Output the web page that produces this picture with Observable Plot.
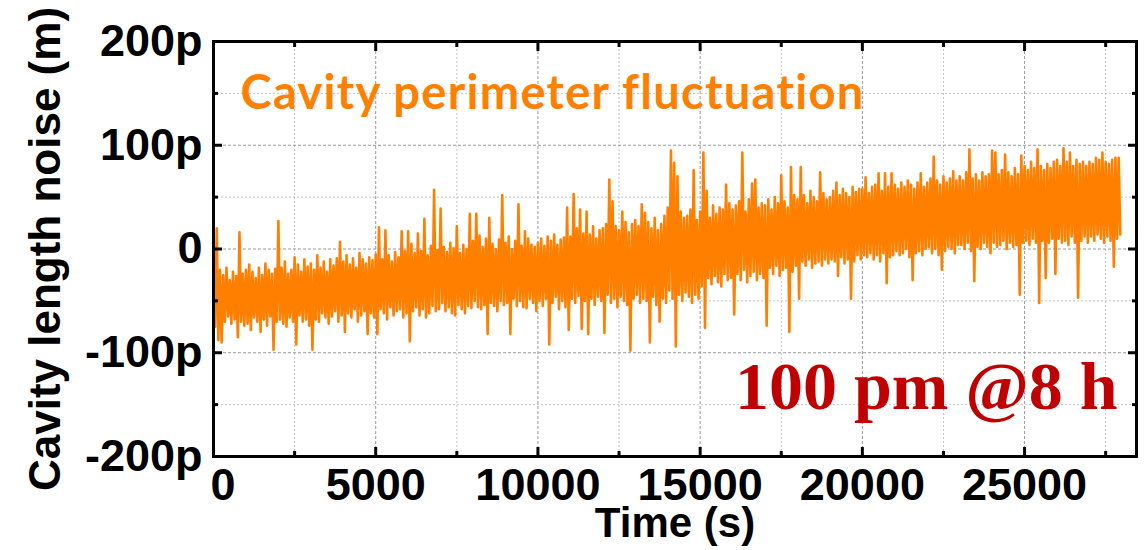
<!DOCTYPE html>
<html><head><meta charset="utf-8">
<script src="https://cdn.jsdelivr.net/npm/d3@7"></script>
<script src="https://cdn.jsdelivr.net/npm/@observablehq/plot@0.6"></script>
<style>body{margin:0;background:#fff;} svg{display:block}</style>
</head><body><div id="chart"></div>
<script>
// Upper and lower excursion of the trace in each 100 s window (pm)
const hiValues = [
  15, 20, -20, -25, -18, -30, -22, -26, 16, -24,
  -20, -15, -22, -28, -18, -25, -14, -20, -24, -19,
  27, -18, -12, -24, -20, -8, -15, -22, -10, -17,
  -14, -20, -6, -18, -12, -22, -10, -16, -9, 7,
  -12, -6, -15, -9, -18, -4, -10, -14, -8, -11,
  -5, 21, -10, 18, -6, -12, -3, -8, 17, -2,
  17, 5, -4, 15, -2, 29, -6, 3, 57, -1,
  39, 2, -3, 6, 1, 22, -4, 4, 0, 34,
  8, 34, 13, 2, 10, 30, 5, 0, 9, 52,
  6, 12, 0, 8, 43, 3, 17, 10, 4, 2,
  6, 10, 3, 12, 8, 14, 4, 9, 11, 40,
  12, 53, 20, 38, 15, 36, 14, 22, 10, 18,
  20, 24, 67, 46, 22, 18, 36, 26, 16, 24,
  28, 22, 43, 35, 26, 20, 30, 18, 24, 32,
  40, 95, 83, 70, 36, 30, 32, 38, 76, 28,
  36, 93, 56, 30, 42, 34, 40, 38, 62, 44,
  38, 42, 46, 93, 36, 48, 63, 67, 40, 44,
  42, 48, 38, 50, 44, 71, 46, 40, 79, 52,
  48, 79, 52, 44, 56, 50, 46, 74, 54, 48,
  50, 56, 64, 52, 58, 54, 50, 60, 55, 58,
  58, 69, 54, 60, 62, 73, 56, 73, 60, 73,
  62, 58, 64, 60, 66, 62, 58, 64, 73, 60,
  64, 68, 89, 66, 62, 70, 64, 68, 75, 66,
  70, 66, 74, 96, 68, 72, 66, 74, 70, 72,
  95, 93, 72, 76, 91, 74, 70, 78, 72, 90,
  80, 76, 84, 78, 96, 80, 76, 82, 78, 84,
  86, 80, 97, 84, 93, 80, 86, 82, 84, 80,
  84, 82, 88, 86, 93, 84, 82, 86, 88, 88
];
const loValues = [
  -75, -88, -90, -70, -65, -72, -68, -85, -70, -74,
  -72, -78, -66, -70, -80, -68, -74, -65, -97, -70,
  -68, -72, -75, -66, -70, -92, -64, -70, -68, -74,
  -97, -68, -70, -62, -66, -72, -65, -60, -70, -64,
  -80, -62, -66, -58, -70, -64, -60, -82, -62, -66,
  -82, -58, -62, -68, -56, -64, -60, -58, -66, -62,
  -89, -60, -56, -64, -58, -66, -62, -55, -60, -58,
  -52, -60, -56, -62, -64, -54, -58, -62, -55, -57,
  -50, -56, -58, -54, -82, -52, -55, -60, -50, -54,
  -52, -82, -48, -55, -50, -56, -57, -48, -52, -60,
  -50, -55, -48, -92, -52, -46, -58, -50, -56, -78,
  -48, -52, -45, -77, -50, -82, -48, -54, -46, -50,
  -81, -44, -52, -48, -56, -46, -50, -54, -98, -48,
  -44, -52, -48, -50, -90, -46, -54, -70, -48, -52,
  -40, -48, -94, -44, -50, -42, -46, -52, -44, -48,
  -36, -76, -28, -34, -26, -32, -36, -24, -30, -28,
  -63, -24, -30, -20, -32, -26, -22, -30, -24, -28,
  -74, -18, -24, -16, -26, -20, -18, -80, -22, -16,
  -48, -12, -16, -10, -18, -14, -12, -16, -10, -14,
  -10, -12, -26, -8, -14, -10, -48, -12, -6, -10,
  -6, -8, -4, -10, -6, -12, -4, -33, -8, -6,
  -2, -6, -4, 0, -8, -30, -4, -2, -6, 0,
  2, -4, 0, -6, -20, -2, 2, 0, -4, 4,
  4, 0, 6, -2, -31, 2, 0, 6, 2, -4,
  6, 2, 4, 8, 0, 6, 2, 4, -44, 6,
  8, 4, 10, 6, -52, 8, -28, 6, 10, -24,
  10, 6, 8, 4, 12, 6, -47, 8, 12, 6,
  12, 8, 14, 10, 6, 12, 8, -17, 10, 14
];
const sampleStep = 100; // seconds per window

const yMajor = [-200, -100, 0, 100, 200];
const yMajorLabels = ["-200p", "-100p", "0", "100p", "200p"];
const yMinor = [-150, -50, 50, 150];
const xMajor = [0, 5000, 10000, 15000, 20000, 25000];
const xMajorLabels = ["0", "5000", "10000", "15000", "20000", "25000"];
const xMinor = [2500, 7500, 12500, 17500, 22500, 27500];
const xDomain = [0, 28450];
const yDomain = [-200, 200];

const seriesLabel = "Cavity perimeter fluctuation";
const noteLabel = "100 pm @8 h";
const xTitle = "Time (s)";
const yTitle = "Cavity length noise (m)";

const points = [];
hiValues.forEach((h, i) => {
  points.push({t: i * sampleStep, v: h});
  points.push({t: i * sampleStep + sampleStep / 2, v: loValues[i]});
});

const orange = "#ff8000";
const tickFont = {fontSize: 45, fontWeight: "bold", fontFamily: "Liberation Sans, Arial, sans-serif", fill: "black"};
const yFmt = d => yMajorLabels[yMajor.indexOf(d)];
const xFmt = d => xMajorLabels[xMajor.indexOf(d)];

const tickMarks = [];
for (const anchor of ["left", "right"]) {
  tickMarks.push(Plot.axisY(yMajor, {anchor, tickSize: -9, strokeWidth: 3, tickFormat: () => "", label: null}));
  tickMarks.push(Plot.axisY(yMinor, {anchor, tickSize: -5, strokeWidth: 3, tickFormat: () => "", label: null}));
}
for (const anchor of ["bottom", "top"]) {
  tickMarks.push(Plot.axisX(xMajor, {anchor, tickSize: -9, strokeWidth: 3, tickFormat: () => "", label: null}));
  tickMarks.push(Plot.axisX(xMinor, {anchor, tickSize: -5, strokeWidth: 3, tickFormat: () => "", label: null}));
}

const chart = Plot.plot({
  width: 1145,
  height: 550,
  marginLeft: 213,
  marginRight: 9,
  marginTop: 41,
  marginBottom: 94,
  style: {background: "white", fontFamily: "Liberation Sans, Arial, sans-serif"},
  x: {domain: xDomain, label: null},
  y: {domain: yDomain, label: null},
  marks: [
    Plot.gridY(yMinor, {stroke: "#c4c4c4", strokeOpacity: 1, strokeDasharray: "2,2"}),
    Plot.gridX(xMinor, {stroke: "#c4c4c4", strokeOpacity: 1, strokeDasharray: "2,2"}),
    Plot.gridY(yMajor, {stroke: "#9a9a9a", strokeOpacity: 1, strokeDasharray: "3,2"}),
    Plot.gridX(xMajor, {stroke: "#9a9a9a", strokeOpacity: 1, strokeDasharray: "3,2"}),
    Plot.line(points, {x: "t", y: "v", stroke: orange, strokeWidth: 2.6}),
    Plot.frame({stroke: "black", strokeWidth: 3}),
    ...tickMarks,
    Plot.axisY(yMajor, {anchor: "left", tickSize: 0, tickPadding: 11, tickFormat: yFmt, label: null, ...tickFont}),
    Plot.axisX(xMajor.slice(1), {anchor: "bottom", tickSize: 0, tickPadding: 12, tickFormat: xFmt, label: null, ...tickFont}),
    Plot.axisX(xMajor.slice(0, 1), {anchor: "bottom", tickSize: 0, tickPadding: 12, tickFormat: xFmt, label: null, textAnchor: "start", dx: -3, ...tickFont}),
    Plot.text([xTitle], {frameAnchor: "bottom", textAnchor: "middle", lineAnchor: "top", dy: 51, text: d => d, ...tickFont, fontSize: 42}),
    Plot.text([yTitle], {frameAnchor: "left", textAnchor: "middle", lineAnchor: "middle", rotate: -90, dx: -168, text: d => d, ...tickFont, fontSize: 44}),
    Plot.text([seriesLabel], {frameAnchor: "top-left", textAnchor: "start", lineAnchor: "top", dx: 27, dy: 34, text: d => d,
      fontSize: 47, fontWeight: "bold", fontFamily: "Lato, Open Sans, sans-serif", fill: orange, className: "series-label"}),
    Plot.text([noteLabel], {frameAnchor: "bottom-right", textAnchor: "end", lineAnchor: "bottom", dx: -19, dy: -48, text: d => d,
      fontSize: 68, fontWeight: "bold", fontFamily: "Liberation Serif, Times New Roman, serif", fill: "#c00000"})
  ]
});
d3.select(chart).selectAll(".series-label text")
  .style("letter-spacing", "1.3px")
  .style("font-variant-ligatures", "none");
document.getElementById("chart").appendChild(chart);
</script>
</body></html>
